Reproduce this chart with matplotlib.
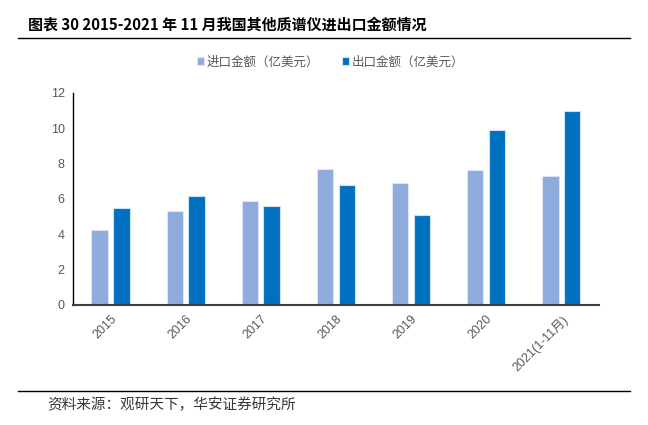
import numpy as np
import matplotlib.pyplot as plt

plt.rcParams['font.family'] = ['Noto Sans CJK SC', 'DejaVu Sans']

# data
years = ['2015', '2016', '2017', '2018', '2019', '2020', '2021(1-11月)']
imports = [4.25, 5.33, 5.86, 7.67, 6.91, 7.61, 7.31]
exports = [5.48, 6.16, 5.61, 6.76, 5.07, 9.89, 10.96]
yticks = [0, 2, 4, 6, 8, 10, 12]

fig = plt.figure(figsize=(6.48, 4.25), dpi=100)
ax = fig.add_axes([0.1127, 0.2824, 0.8113, 0.4996])

x = np.arange(len(years))
w = 0.22
ax.bar(x - 0.145, imports, w, color='#8FAADC', edgecolor='#DDE6F5', linewidth=0.8,
       label='进口金额（亿美元）')
ax.bar(x + 0.145, exports, w, color='#0070C0', edgecolor='#CFE0F2', linewidth=0.8,
       label='出口金额（亿美元）')

ax.set_xlim(-0.5, len(years) - 0.5)
ax.set_ylim(0, 12)
ax.set_yticks(yticks)
ax.set_yticklabels([str(v) for v in yticks], family='Liberation Sans', fontsize=9, color='#595959')
ax.set_xticks(x)
ax.set_xticklabels(years, rotation=45, ha='right', rotation_mode='anchor',
                   fontsize=9, color='#595959')
ax.tick_params(axis='both', length=0, pad=6)
for lab in ax.get_xticklabels():
    lab.set_family(['Liberation Sans', 'Noto Sans CJK SC'])

for s in ['top', 'right']:
    ax.spines[s].set_visible(False)
ax.spines['left'].set_color('#000000')
ax.spines['left'].set_linewidth(1.0)
ax.spines['bottom'].set_color('#404040')
ax.spines['bottom'].set_linewidth(1.5)

leg = fig.legend(loc='center', bbox_to_anchor=(0.51, 1 - 62 / 425), ncol=2, frameon=False,
                 fontsize=9, handlelength=0.6, handleheight=0.6, handletextpad=0.2,
                 columnspacing=1.8)
for t in leg.get_texts():
    t.set_color('#595959')

fig.text(28 / 648, 1 - 25 / 425, '图表 30 2015-2021 年 11 月我国其他质谱仪进出口金额情况',
         fontsize=10.8, fontweight='bold', va='center', ha='left', color='#000000')
fig.add_artist(plt.Line2D([18 / 648, 630 / 648], [1 - 38 / 425, 1 - 38 / 425],
                          color='#000000', linewidth=1.0))
fig.add_artist(plt.Line2D([18 / 648, 630 / 648], [1 - 391 / 425, 1 - 391 / 425],
                          color='#000000', linewidth=1.0))
fig.text(47 / 648, 1 - 405 / 425, '资料来源：观研天下，华安证券研究所',
         fontsize=10.5, va='center', ha='left', color='#3A3630')

fig.savefig('out.png', dpi=100)
